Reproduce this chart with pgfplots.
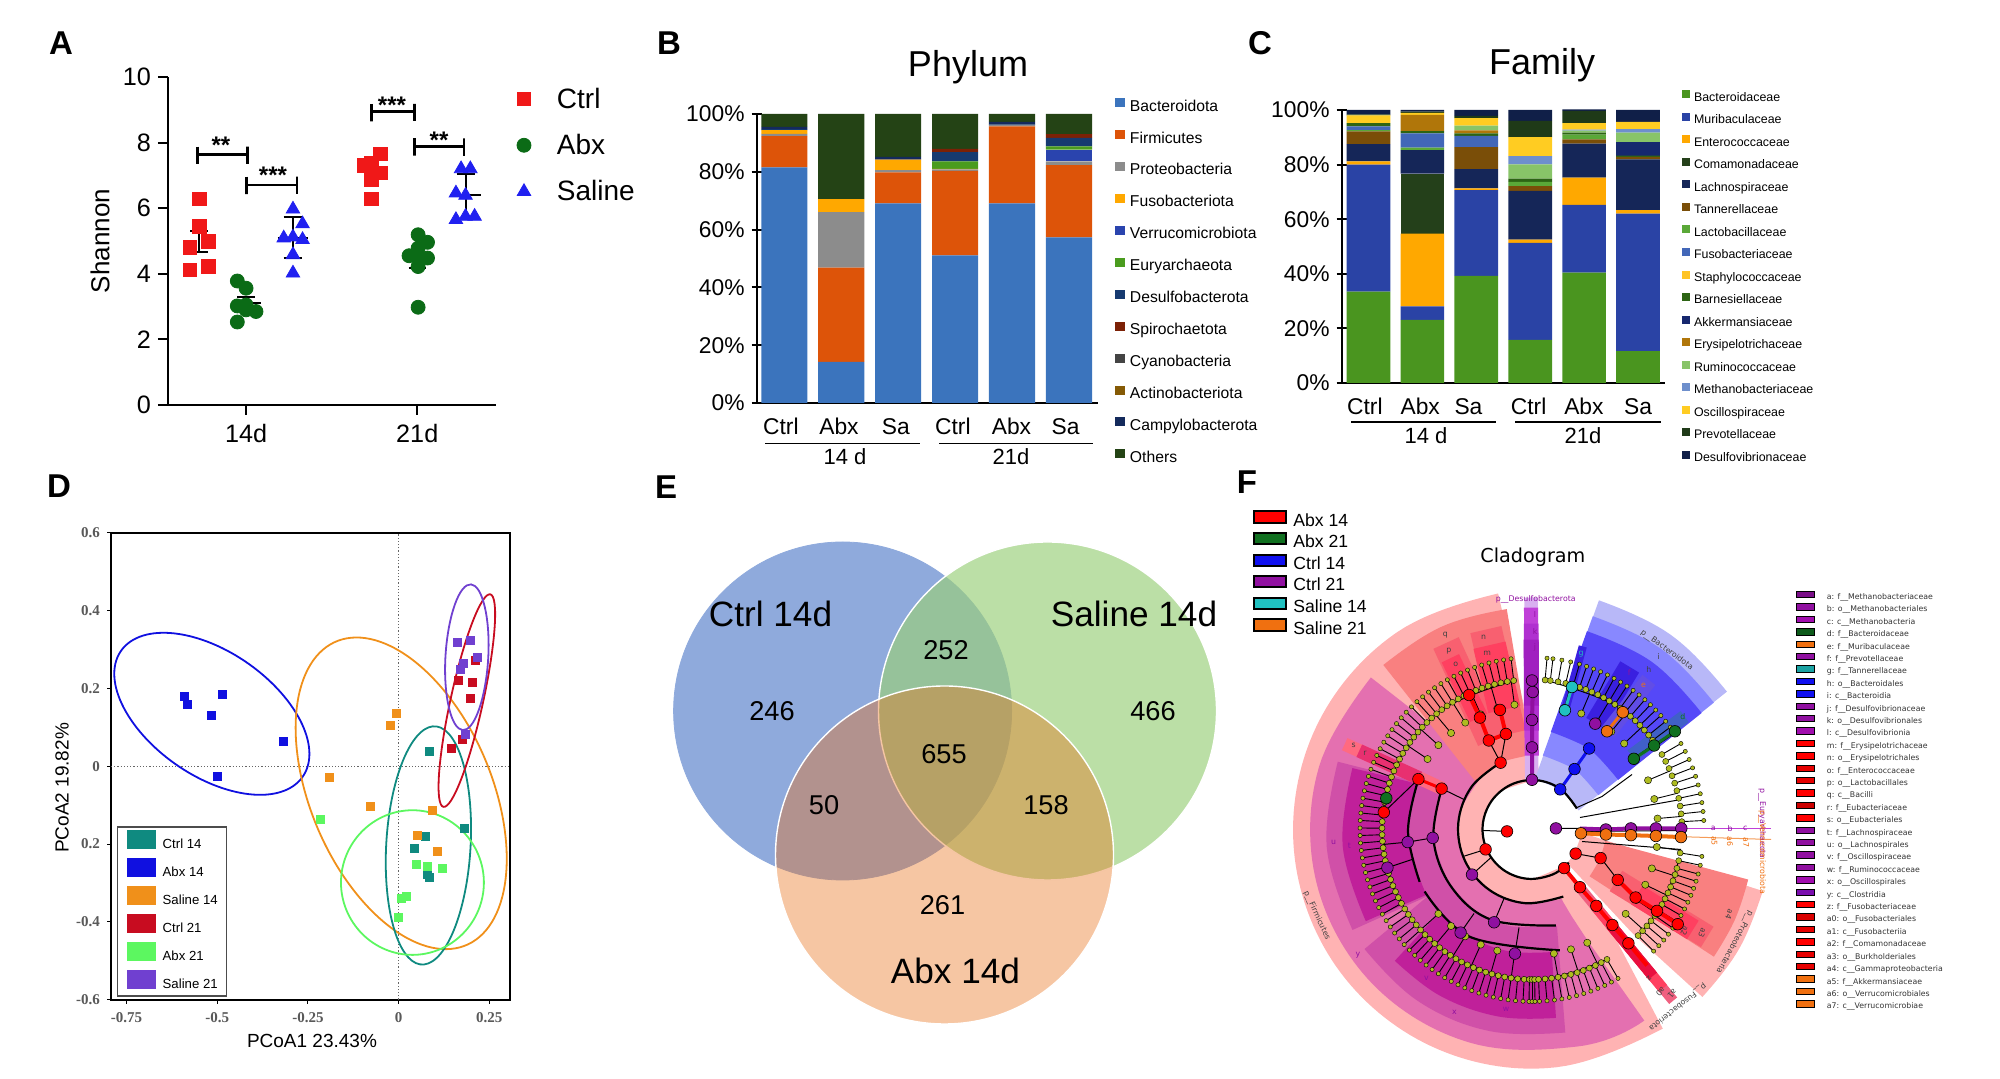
\documentclass[border=0pt]{standalone}
\usepackage{fontspec}
\setmainfont{Liberation Sans}
\newfontfamily\serifnum{Liberation Serif}
\newfontfamily\dejavu{DejaVu Sans}
\usepackage{pgfplots}
\usepackage{pgfplotstable}
\pgfplotsset{compat=1.18}
\newcommand\fs[1]{\fontsize{#1}{#1}\selectfont}

% panel A
\definecolor{aRed}{HTML}{F01818}
\definecolor{aGreen}{HTML}{0B6B16}
\definecolor{aBlue}{HTML}{2020F0}
% panel B
\definecolor{pBac}{HTML}{3B74BD}
\definecolor{pFir}{HTML}{DD5409}
\definecolor{pPro}{HTML}{8C8C8C}
\definecolor{pFus}{HTML}{FFA800}
\definecolor{pVer}{HTML}{2A44AE}
\definecolor{pEur}{HTML}{4A9C1E}
\definecolor{pDes}{HTML}{163A70}
\definecolor{pSpi}{HTML}{7C2106}
\definecolor{pCya}{HTML}{444444}
\definecolor{pAct}{HTML}{855A05}
\definecolor{pCam}{HTML}{142A5C}
\definecolor{pOth}{HTML}{244315}
% panel C
\definecolor{fBac}{HTML}{4A951F}
\definecolor{fMur}{HTML}{2A43A5}
\definecolor{fEnt}{HTML}{FFA800}
\definecolor{fCom}{HTML}{24401A}
\definecolor{fLac}{HTML}{152658}
\definecolor{fTan}{HTML}{7A4E08}
\definecolor{fLab}{HTML}{5AA838}
\definecolor{fFus}{HTML}{4267B8}
\definecolor{fSta}{HTML}{FFC425}
\definecolor{fBar}{HTML}{2D6414}
\definecolor{fAkk}{HTML}{16286E}
\definecolor{fEry}{HTML}{B0760A}
\definecolor{fRum}{HTML}{88C468}
\definecolor{fMet}{HTML}{6E8FCC}
\definecolor{fOsc}{HTML}{FFCC22}
\definecolor{fPre}{HTML}{1F3A18}
\definecolor{fDes}{HTML}{101F48}
% panel D
\definecolor{dTeal}{HTML}{0F8A80}
\definecolor{dBlue}{HTML}{1010E0}
\definecolor{dOrange}{HTML}{F0901A}
\definecolor{dRed}{HTML}{C80C20}
\definecolor{dGreen}{HTML}{5CF760}
\definecolor{dPurple}{HTML}{7040D0}
% panel E
\definecolor{vBlue}{HTML}{8FAADC}
\definecolor{vGreen}{HTML}{9ACF7A}
\definecolor{vOrange}{HTML}{E87019}
% panel F
\definecolor{cRed}{HTML}{FF0000}
\definecolor{cPur}{HTML}{9010A0}
\definecolor{cBlu}{HTML}{1010F0}
\definecolor{cOra}{HTML}{F07010}
\definecolor{cTea}{HTML}{20C0C0}
\definecolor{cGre}{HTML}{107020}
\definecolor{cOli}{HTML}{AEBC20}
\definecolor{pale}{HTML}{FFB3B3}
\definecolor{wClo}{HTML}{E470B0}
\definecolor{wBac}{HTML}{F98080}
\definecolor{wOrd}{HTML}{D050A8}
\definecolor{wFam}{HTML}{C0209A}
\definecolor{wRa}{HTML}{FF6A80}
\definecolor{wRb}{HTML}{E83070}
\definecolor{wRc}{HTML}{F86070}
\definecolor{wRd}{HTML}{FF4060}
\definecolor{wPa}{HTML}{D8B0F0}
\definecolor{wPb}{HTML}{C040D8}
\definecolor{wPc}{HTML}{B030D0}
\definecolor{wPd}{HTML}{A020C0}
\definecolor{wBa}{HTML}{B8B8F8}
\definecolor{wBb}{HTML}{8888FF}
\definecolor{wBc}{HTML}{5548F8}
\definecolor{wBd}{HTML}{3A20E0}
\definecolor{wBe}{HTML}{4060C8}
\definecolor{wFa}{HTML}{F06080}
\definecolor{wFb}{HTML}{E81040}

\pgfplotstableread{
x  Bac  Fir  Pro  Fus Ver Eur Des Spi Cya Act Cam Oth
0  81.5 10.8 0.8  1.3 0   0   0.4 0   0   0   0.7 4.5
1  14.2 32.6 19.2 4.5 0   0   0   0   0   0   0   29.5
2  69.1 10.7 0.8  3.6 0   0   0   0   0   0   1.0 14.8
3  51.1 29.2 0.5  0.2 0   2.6 3.2 1.1 0   0   0   12.1
4  69.1 26.6 0.5  0   0   0   0.2 0   0   0   0.9 2.7
5  57.3 25.0 1.3  0   4.1 1.1 2.9 1.3 0   0   0   7.0
}\phylum

\pgfplotstableread{
x  Bac  Mur  Ent  Com Lac  Tan Lab Fus Sta Bar Akk Ery Rum Met Osc Pre Des
0  33.5 46.5 1.2  0   6.3  4.7 0.4 1.4 0   1.2 0   0   0   0   2.8 0.4 1.6
1  23.1 5.0  26.6 22  8.6  0   0.9 5.2 0   0.9 0   5.9 0   0   0.7 0.5 0.6
2  39.2 31.4 0.7  0   7.0  8.1 0   4.1 0   0.9 0   1.1 1.8 0   2.7 0.8 2.2
3  15.8 35.5 1.2  0   17.9 1.7 1.6 0   0   1.2 0   0   5.2 3.0 7.0 5.9 4.0
4  40.4 24.8 10.0 0   12.5 1.5 1.8 0   0   0.7 0   0   0.7 0.4 2.4 4.5 0.5
5  11.7 50.3 1.3  0   18.6 0.9 0   0   0   0.5 4.8 0   3.6 1.3 2.6 0   4.4
}\family

\pgfplotsset{
  stackbars/.style={
    scale only axis, ybar stacked, bar width=0.81,
    ymin=0, ymax=100, ytick={0,20,...,100},
    yticklabel={\pgfmathprintnumber{\tick}\%},
    /pgf/number format/assume math mode=true,
    axis x line=bottom, axis y line=left, axis line style={-,line width=1.2pt},
    y tick style={black,line width=1pt}, x tick style={draw=none},
    major tick length=5.4pt,
    tick label style={font=\fs{11.4}},
    xticklabel style={yshift=-1.5pt},
    legend image code/.code={\fill[##1] (0pt,-0.3pt) rectangle (5pt,4.2pt);},
    legend cell align=left,
  },
  band/.style={forget plot,data cs=polar,smooth,tension=0.62,line cap=butt},
  ringarc/.style={forget plot,data cs=polar,smooth,tension=0.62,black},
}
% framed swatch for the two keys of panel F; size set by \swlw \swlo \swwd \swhi
\newcommand\tax[2]{\addlegendimage{legend image code/.code={\filldraw[fill=#1,draw=black,line width=\swlw] (0pt,\swlo) rectangle (\swwd,\swhi);}}\addlegendentry{#2}}
% zoomed-crop coordinates of panel F to picture units
\def\fz(#1,#2){(1240+#1/2.8,599-#2/2.618)}

\begin{document}
\begin{tikzpicture}[x=0.5pt,y=0.5pt]
\path[use as bounding box] (0,0) rectangle (2000,1079);

% ---------- A
\begin{axis}[
  at={(84pt,337pt)}, scale only axis, width=164pt, height=164pt,
  xmin=0.544, xmax=2.46, ymin=0, ymax=10,
  axis lines=left, axis line style={-,line width=1.2pt},
  xtick={1,2}, xticklabels={14d,21d}, ytick={0,2,...,10},
  tick style={black,line width=1pt}, tick align=outside, major tick length=5pt,
  tick label style={font=\fs{12.6}},
  xticklabel style={yshift=-1pt},
  /pgf/number format/assume math mode=true,
  clip=false,
  legend style={at={(1.0445,0.982)},anchor=north west,draw=none,fill=none,
    font=\fs{14},row sep=9.15pt,column sep=13pt,nodes={inner sep=0pt,text height=10.5pt,text depth=3.5pt}},
  legend cell align=left,
  legend image code/.code={\draw[#1] plot coordinates {(6pt,1.15pt)};},
]
\addplot[only marks,mark=square*,mark size=3.4pt,color=aRed] coordinates {
  (0.726,6.28)(0.726,5.44)(0.779,4.98)(0.673,4.81)(0.779,4.22)(0.673,4.12)
  (1.784,7.66)(1.688,7.30)(1.731,7.38)(1.731,7.17)(1.784,7.07)(1.731,6.87)(1.731,6.28)};
\addlegendentry{Ctrl}
\addplot[only marks,mark=*,mark size=3.5pt,color=aGreen] coordinates {
  (0.949,3.78)(1.0,3.56)(0.949,3.02)(1.0,2.90)(1.058,2.85)(0.949,2.53)(1.0,3.05)
  (2.005,5.19)(2.06,4.96)(2.005,4.78)(1.952,4.55)(2.005,4.52)(2.06,4.48)(2.005,4.22)(2.005,2.98)};
\addlegendentry{Abx}
\addplot[only marks,mark=triangle*,mark size=3.9pt,color=aBlue] coordinates {
  (1.274,5.97)(1.33,5.52)(1.22,5.09)(1.274,5.12)(1.33,5.04)(1.274,4.58)(1.274,4.02)
  (2.256,7.2)(2.31,7.2)(2.226,6.46)(2.282,6.39)(2.226,5.65)(2.282,5.75)(2.335,5.75)};
\addlegendentry{Saline}
% mean and error bars
\addplot[forget plot,black,line width=1pt,unbounded coords=jump] coordinates {
  (0.726,4.65)(0.726,5.30)(nan,nan)(0.675,5.30)(0.777,5.30)(nan,nan)(0.675,4.65)(0.777,4.65)(nan,nan)
  (1.0,2.85)(1.0,3.30)(nan,nan)(0.948,3.30)(1.052,3.30)(nan,nan)(0.97,3.10)(1.09,3.10)(nan,nan)
  (1.274,4.47)(1.274,5.72)(nan,nan)(1.22,5.72)(1.326,5.72)(nan,nan)(1.185,5.10)(1.363,5.10)(nan,nan)(1.22,4.47)(1.326,4.47)(nan,nan)
  (1.731,6.85)(1.731,7.35)(nan,nan)(1.68,7.10)(1.78,7.10)(nan,nan)
  (2.0,4.17)(2.0,4.88)(nan,nan)(1.95,4.17)(2.05,4.17)(nan,nan)
  (2.282,5.75)(2.282,7.03)(nan,nan)(2.23,7.03)(2.335,7.03)(nan,nan)(2.19,6.39)(2.37,6.39)};
% significance brackets
\addplot[forget plot,black,line width=1.3pt] coordinates {(0.718,7.88)(0.718,7.35)(0.718,7.63)(1.008,7.63)(1.008,7.88)(1.008,7.35)};
\addplot[forget plot,black,line width=1.3pt] coordinates {(1.003,6.96)(1.003,6.43)(1.003,6.71)(1.297,6.71)(1.297,6.96)(1.297,6.43)};
\addplot[forget plot,black,line width=1.3pt] coordinates {(1.731,9.18)(1.731,8.65)(1.731,8.95)(1.985,8.95)(1.985,9.18)(1.985,8.65)};
\addplot[forget plot,black,line width=1.3pt] coordinates {(1.985,8.13)(1.985,7.60)(1.985,7.88)(2.272,7.88)(2.272,8.13)(2.272,7.60)};
\end{axis}
\node[font=\bfseries\fs{16.5}] at (61,1079-43) {A};
\node[font=\fs{13},rotate=90] at (100,1079-241) {Shannon};
\node[font=\bfseries\fs{12}] at (221,1079-145) {**};
\node[font=\bfseries\fs{12}] at (273,1079-175) {***};
\node[font=\bfseries\fs{12}] at (392,1079-105) {***};
\node[font=\bfseries\fs{12}] at (439,1079-140) {**};

% ---------- B
\begin{axis}[stackbars,
  at={(378.5pt,338pt)}, width=170.5pt, height=144.5pt,
  xmin=-0.48, xmax=5.51,
  xtick={-0.06,0.96,1.96,2.96,3.99,4.94}, xticklabels={Ctrl,Abx,Sa,Ctrl,Abx,Sa},
  legend style={at={(1.031,1.069)},anchor=north west,draw=none,fill=none,
    font=\fs{7.85},row sep=7.9pt,column sep=2.5pt,nodes={inner sep=0pt,text height=6pt,text depth=1.7pt}},
]
\addplot[fill=pBac,draw=none] table[x=x,y=Bac] {\phylum}; \addlegendentry{Bacteroidota}
\addplot[fill=pFir,draw=none] table[x=x,y=Fir] {\phylum}; \addlegendentry{Firmicutes}
\addplot[fill=pPro,draw=none] table[x=x,y=Pro] {\phylum}; \addlegendentry{Proteobacteria}
\addplot[fill=pFus,draw=none] table[x=x,y=Fus] {\phylum}; \addlegendentry{Fusobacteriota}
\addplot[fill=pVer,draw=none] table[x=x,y=Ver] {\phylum}; \addlegendentry{Verrucomicrobiota}
\addplot[fill=pEur,draw=none] table[x=x,y=Eur] {\phylum}; \addlegendentry{Euryarchaeota}
\addplot[fill=pDes,draw=none] table[x=x,y=Des] {\phylum}; \addlegendentry{Desulfobacterota}
\addplot[fill=pSpi,draw=none] table[x=x,y=Spi] {\phylum}; \addlegendentry{Spirochaetota}
\addplot[fill=pCya,draw=none] table[x=x,y=Cya] {\phylum}; \addlegendentry{Cyanobacteria}
\addplot[fill=pAct,draw=none] table[x=x,y=Act] {\phylum}; \addlegendentry{Actinobacteriota}
\addplot[fill=pCam,draw=none] table[x=x,y=Cam] {\phylum}; \addlegendentry{Campylobacterota}
\addplot[fill=pOth,draw=none] table[x=x,y=Oth] {\phylum}; \addlegendentry{Others}
\end{axis}
\node[font=\bfseries\fs{16.5}] at (669,1079-43) {B};
\node[font=\fs{18}] at (968,1079-67) {Phylum};
\draw[line width=0.7pt] (765,1079-443.5) -- (919.5,1079-443.5) (939,1079-443.5) -- (1093,1079-443.5);
\node[font=\fs{11}] at (845,1079-457) {14 d};
\node[font=\fs{11}] at (1011,1079-457) {21d};

% ---------- C
\begin{axis}[stackbars,
  at={(671pt,348pt)}, width=161.5pt, height=136.5pt,
  xmin=-0.49, xmax=5.5,
  xtick={-0.066,0.96,1.855,2.97,3.996,5.0}, xticklabels={Ctrl,Abx,Sa,Ctrl,Abx,Sa},
  legend image code/.code={\fill[#1] (0pt,-0.2pt) rectangle (4pt,3.8pt);},
  legend style={at={(1.033,1.088)},anchor=north west,draw=none,fill=none,
    font=\fs{6.2},row sep=4.46pt,column sep=2pt,nodes={inner sep=0pt,text height=4.6pt,text depth=1.4pt}},
]
\addplot[fill=fBac,draw=none] table[x=x,y=Bac] {\family}; \addlegendentry{Bacteroidaceae}
\addplot[fill=fMur,draw=none] table[x=x,y=Mur] {\family}; \addlegendentry{Muribaculaceae}
\addplot[fill=fEnt,draw=none] table[x=x,y=Ent] {\family}; \addlegendentry{Enterococcaceae}
\addplot[fill=fCom,draw=none] table[x=x,y=Com] {\family}; \addlegendentry{Comamonadaceae}
\addplot[fill=fLac,draw=none] table[x=x,y=Lac] {\family}; \addlegendentry{Lachnospiraceae}
\addplot[fill=fTan,draw=none] table[x=x,y=Tan] {\family}; \addlegendentry{Tannerellaceae}
\addplot[fill=fLab,draw=none] table[x=x,y=Lab] {\family}; \addlegendentry{Lactobacillaceae}
\addplot[fill=fFus,draw=none] table[x=x,y=Fus] {\family}; \addlegendentry{Fusobacteriaceae}
\addplot[fill=fSta,draw=none] table[x=x,y=Sta] {\family}; \addlegendentry{Staphylococcaceae}
\addplot[fill=fBar,draw=none] table[x=x,y=Bar] {\family}; \addlegendentry{Barnesiellaceae}
\addplot[fill=fAkk,draw=none] table[x=x,y=Akk] {\family}; \addlegendentry{Akkermansiaceae}
\addplot[fill=fEry,draw=none] table[x=x,y=Ery] {\family}; \addlegendentry{Erysipelotrichaceae}
\addplot[fill=fRum,draw=none] table[x=x,y=Rum] {\family}; \addlegendentry{Ruminococcaceae}
\addplot[fill=fMet,draw=none] table[x=x,y=Met] {\family}; \addlegendentry{Methanobacteriaceae}
\addplot[fill=fOsc,draw=none] table[x=x,y=Osc] {\family}; \addlegendentry{Oscillospiraceae}
\addplot[fill=fPre,draw=none] table[x=x,y=Pre] {\family}; \addlegendentry{Prevotellaceae}
\addplot[fill=fDes,draw=none] table[x=x,y=Des] {\family}; \addlegendentry{Desulfovibrionaceae}
\end{axis}
\node[font=\bfseries\fs{16.5}] at (1260,1079-43) {C};
\node[font=\fs{18}] at (1542,1079-65) {Family};
\draw[line width=0.7pt] (1351,1079-422) -- (1496,1079-422) (1515,1079-422) -- (1661,1079-422);
\node[font=\fs{11}] at (1426,1079-436) {14 d};
\node[font=\fs{11}] at (1583,1079-436) {21d};

% ---------- D
\begin{axis}[
  at={(55.5pt,39.7pt)}, scale only axis, width=199.5pt, height=233.3pt,
  xmin=-0.793, xmax=0.307, ymin=-0.6, ymax=0.6,
  axis line style={line width=1pt},
  xtick={-0.75,-0.5,-0.25,0,0.25}, xticklabels={-0.75,-0.5,-0.25,0,0.25},
  ytick={-0.6,-0.4,-0.2,0,0.2,0.4,0.6}, yticklabels={-0.6,-0.4,0.2,0,0.2,0.4,0.6},
  xtick pos=bottom, ytick pos=left,
  tick style={black,line width=0.5pt}, tick align=outside, major tick length=2pt,
  tick label style={font=\serifnum\bfseries\fs{7.5},text=black!65},
  xticklabel style={yshift=-1pt},
  legend style={at={(0.015,0.006)},anchor=south west,draw=black!70,line width=0.7pt,fill=white,
    font=\fs{6.6},row sep=2.45pt,column sep=3.3pt,inner xsep=4.5pt,inner ysep=1.5pt,
    nodes={inner sep=0pt,text height=6.5pt,text depth=2.3pt}},
  legend cell align=left,
  legend image code/.code={\fill[#1] (0pt,-2pt) rectangle (14pt,6.8pt);},
]
\addplot[forget plot,black!60,densely dotted,line width=0.6pt] coordinates {(-0.793,0)(0.307,0)};
\addplot[forget plot,black!60,densely dotted,line width=0.6pt] coordinates {(0,-0.6)(0,0.6)};
\addplot[only marks,mark=square*,mark size=2pt,color=dTeal,fill=dTeal] coordinates {(.086,.038)(.181,-.161)(.073,-.181)(.043,-.21)(.08,-.277)(.084,-.287)};
\addlegendentry{Ctrl 14}
\addplot[only marks,mark=square*,mark size=2pt,color=dBlue,fill=dBlue] coordinates {(-.591,.179)(-.583,.158)(-.486,.185)(-.517,.13)(-.319,.065)(-.5,-.027)};
\addlegendentry{Abx 14}
\addplot[only marks,mark=square*,mark size=2pt,color=dOrange,fill=dOrange] coordinates {(-.005,.137)(-.024,.106)(-.191,-.029)(-.077,-.103)(.094,-.113)(.051,-.178)(.107,-.22)};
\addlegendentry{Saline 14}
\addplot[only marks,mark=square*,mark size=2pt,color=dRed,fill=dRed] coordinates {(.211,.273)(.164,.222)(.203,.215)(.198,.175)(.175,.07)(.145,.045)};
\addlegendentry{Ctrl 21}
\addplot[only marks,mark=square*,mark size=2pt,color=dGreen,fill=dGreen] coordinates {(-.215,-.136)(.048,-.252)(.08,-.258)(.12,-.262)(.02,-.335)(.008,-.34)(0,-.388)};
\addlegendentry{Abx 21}
\addplot[only marks,mark=square*,mark size=2pt,color=dPurple,fill=dPurple] coordinates {(.161,.318)(.199,.324)(.217,.28)(.178,.264)(.171,.248)(.185,.082)};
\addlegendentry{Saline 21}
% ellipses, eight points each
\addplot[forget plot,dBlue,line width=0.9pt,smooth cycle,tension=0.675] coordinates {(-.246,.032)(-.325,.190)(-.515,.316)(-.705,.336)(-.784,.238)(-.705,.080)(-.515,-.046)(-.325,-.066)};
\addplot[forget plot,dOrange,line width=0.9pt,smooth cycle,tension=0.675] coordinates {(.298,-.238)(.213,.069)(.007,.294)(-.199,.307)(-.284,.099)(-.199,-.208)(.007,-.433)(.213,-.446)};
\addplot[forget plot,dTeal,line width=0.9pt,smooth cycle,tension=0.675] coordinates {(.1996,-.1606)(.1652,.0414)(.082,.0999)(-.0012,-.0193)(-.0356,-.2464)(-.0012,-.4484)(.082,-.5069)(.1652,-.3877)};
\addplot[forget plot,dGreen,line width=0.9pt,smooth cycle,tension=0.675] coordinates {(.235,-.299)(.177,-.1675)(.038,-.113)(-.101,-.1675)(-.159,-.299)(-.101,-.4305)(.038,-.485)(.177,-.4305)};
\addplot[forget plot,dRed,line width=0.9pt,smooth cycle,tension=0.675] coordinates {(.266,.391)(.243,.439)(.188,.330)(.133,.126)(.110,-.053)(.133,-.101)(.188,.008)(.243,.212)};
\addplot[forget plot,dPurple,line width=0.9pt,smooth cycle,tension=0.675] coordinates {(.248,.312)(.230,.4337)(.188,.4652)(.146,.3885)(.128,.2486)(.146,.1273)(.188,.0958)(.230,.1725)};
\end{axis}
\node[font=\bfseries\fs{16.5}] at (59,1079-486) {D};
\node[font=\fs{9.5}] at (312,1079-1041) {PCoA1 23.43\%};
\node[font=\fs{9.5},rotate=90] at (62,1079-788) {PCoA2 19.82\%};

% ---------- E
\begin{axis}[
  at={(320pt,19.5pt)}, scale only axis, width=300pt, height=260pt,
  xmin=640, xmax=1240, ymin=39, ymax=559, hide axis, clip=false,
]
\addplot[only marks,mark=*,mark size=84.5pt,mark options={fill=vBlue,draw=vBlue}] coordinates {(842.6,368)};
\addplot[only marks,mark=*,mark size=84.5pt,mark options={fill=vGreen,fill opacity=0.67,draw=white,line width=0.7pt}] coordinates {(1047.5,368)};
\addplot[only marks,mark=*,mark size=84.5pt,mark options={fill=vOrange,fill opacity=0.4,draw=white,line width=0.7pt}] coordinates {(944.5,224)};
\end{axis}
\node[font=\bfseries\fs{16.5}] at (666,1079-487) {E};
\node[font=\fs{17.6}] at (770.5,1079-614) {Ctrl 14d};
\node[font=\fs{17.6}] at (1134,1079-614) {Saline 14d};
\node[font=\fs{17.6}] at (955.5,1079-971) {Abx 14d};
\node[font=\fs{13.6}] at (772,1079-711) {246};
\node[font=\fs{13.6}] at (946,1079-650) {252};
\node[font=\fs{13.6}] at (1153,1079-711) {466};
\node[font=\fs{13.6}] at (944,1079-754) {655};
\node[font=\fs{13.6}] at (824,1079-805) {50};
\node[font=\fs{13.6}] at (1046,1079-805) {158};
\node[font=\fs{13.6}] at (942.5,1079-905) {261};

% ---------- F
\def\swlw{1pt}\def\swlo{-0.4pt}\def\swwd{16pt}\def\swhi{5.2pt}
\begin{axis}[
  at={(641pt,-0.25pt)}, scale only axis, width=250pt, height=250pt,
  xmin=-250, xmax=250, ymin=-250, ymax=250, hide axis, clip=false,
  legend style={at={(-0.07,1.147)},anchor=north west,draw=none,fill=none,
    font=\fs{8.8},row sep=0.9pt,column sep=3pt,nodes={inner sep=0pt,text height=6.4pt,text depth=2pt}},
  legend cell align=left,
]
\tax{cRed}{Abx 14}
\tax{cGre}{Abx 21}
\tax{cBlu}{Ctrl 14}
\tax{cPur}{Ctrl 21}
\tax{cTea}{Saline 14}
\tax{cOra}{Saline 21}
% shaded clades: thick arcs, (angle,radius)
\addplot[band,draw=pale,line width=95pt] coordinates {(95,144)(125,144)(155,144)(185,144)(215,144)(245,144)(275,144)(307,144)};
\addplot[band,draw=wClo,line width=74pt] coordinates {(134,148)(164,148)(194,148)(224,148)(254,148)(284,148)(298,148)};
\addplot[band,draw=wBac,line width=74pt] coordinates {(95,148)(114,148)(134,148)};
\addplot[band,draw=wOrd,line width=53.5pt] coordinates {(159,152.5)(185,152.5)(211,152.5)};
\addplot[band,draw=wFam,line width=33pt] coordinates {(160,157)(185,157)(210,157)};
\addplot[band,draw=wOrd,line width=53.5pt] coordinates {(214,152.5)(236,152.5)(258,152.5)(281,152.5)};
\addplot[band,draw=wFam,line width=33pt] coordinates {(223,157)(241,157)(260,157)(278,157)};
\addplot[band,draw=wRa,line width=53.5pt] coordinates {(153,152.5)(158,152.5)};
\addplot[band,draw=wRb,line width=33pt] coordinates {(153,157)(158,157)};
\addplot[band,draw=wRc,line width=53.5pt] coordinates {(97,152.5)(109,152.5)};
\addplot[band,draw=wRc,line width=53.5pt] coordinates {(109.5,152.5)(120,152.5)};
\addplot[band,draw=wRd,line width=33pt] coordinates {(97,157)(109,157)};
\addplot[band,draw=wRd,line width=33pt] coordinates {(112,157)(119,157)};
% Desulfobacterota
\addplot[band,draw=wPa,line width=91.5pt] coordinates {(87.5,140.5)(93,140.5)};
\addplot[band,draw=wPb,line width=74pt] coordinates {(87.5,148)(93,148)};
\addplot[band,draw=wPc,line width=53.5pt] coordinates {(87.5,152.5)(93,152.5)};
\addplot[band,draw=wPd,line width=33pt] coordinates {(87.5,157)(93,157)};
% Bacteroidota
\addplot[band,draw=wBa,line width=95pt] coordinates {(33,144)(54.5,144)(76,144)};
\addplot[band,draw=wBb,line width=74pt] coordinates {(33,148)(54.5,148)(76,148)};
\addplot[band,draw=wBc,line width=53.5pt] coordinates {(33,152.5)(54.5,152.5)(76,152.5)};
\addplot[band,draw=wBd,line width=33pt] coordinates {(55,157)(63,157)};
\addplot[band,draw=wBd!80!white,line width=33pt] coordinates {(49,157)(55,157)};
\addplot[band,draw=wBd,line width=33pt] coordinates {(73,157)(76,157)};
\addplot[band,draw=wBe,line width=33pt] coordinates {(34,157)(39,157)};
% Proteobacteria and Fusobacteriota
\addplot[band,draw=pale,line width=95pt] coordinates {(-46,144)(-30,144)(-13,144)};
\addplot[band,draw=wBac,line width=74pt] coordinates {(-36,148)(-24,148)(-12,148)};
\addplot[band,draw=wRc,line width=53.5pt] coordinates {(-36,152.5)(-27,152.5)};
\addplot[band,draw=wRd,line width=33pt] coordinates {(-36,157)(-28,157)};
\addplot[band,draw=white,line width=95pt] coordinates {(-48,144)(-46,144)};
\addplot[band,draw=wFa,line width=74pt] coordinates {(-52.5,148)(-48.5,148)};
\addplot[band,draw=wRd,line width=53.5pt] coordinates {(-52.5,152.5)(-48.5,152.5)};
\addplot[band,draw=wFb,line width=33pt] coordinates {(-52.5,157)(-48.5,157)};
% Euryarchaeota and Verrucomicrobiota rays
\addplot[forget plot,wPb,line width=0.5pt] coordinates {(48,1)(239,1)};
\addplot[forget plot,cOra!70!white,line width=0.5pt] coordinates {(48,-4)(239,-10)};
% outer twigs, genus to species
\pgfplotsinvokeforeach{97,99.5,102,104.5,107,109.5,112,114.5,117,119.5,122,124.5,127,129.5,132,134.5,137,139.5,142,144.5,147,149.5,152,154.5,157,159.5,162,164.5,167,169.5,172,174.5,177,179.5,182,184.5,187,189.5,192,194.5,197,199.5,202,204.5,207,209.5,212,214.5,217,219.5,222,224.5,227,229.5,232,234.5,237,239.5,242,244.5,247,249.5,252,254.5,257,259.5,262,264.5,267,269,270,271,272.5,275,277.5,280,282.5,285,287.5,290,292.5,295,297.5,300,34,36.5,39,41.5,44,46.5,49,51.5,54,56.5,59,61.5,64,66.5,69,71.5,74,77,80,83,85,-45,-42.5,-40,-37.5,-35,-32.5,-30,-27.5,-25,-22.5,-20,-17.5,-15,-12,-9,30,27,24,21,18,15,12,9,6,3}{
  \addplot[forget plot,data cs=polar,black,line width=0.45pt] coordinates {(#1,148)(#1,172)};
  \addplot[forget plot,data cs=polar,only marks,mark=*,mark size=1.05pt,mark options={fill=cOli,draw=black,line width=0.2pt}] coordinates {(#1,172)};
  \addplot[forget plot,data cs=polar,only marks,mark=*,mark size=1.5pt,mark options={fill=cOli,draw=black,line width=0.2pt}] coordinates {(#1,150)};
}
\pgfplotsinvokeforeach{98,106,114,122,130,138,146,222,230,238,246,254,262,280,288,296,35,43,51,59,67,75,-42,-34,-26,-18,-8,5,14,23}{
  \addplot[forget plot,data cs=polar,black,line width=0.45pt] coordinates {(#1,124)(#1,150)};
  \addplot[forget plot,data cs=polar,only marks,mark=*,mark size=1.8pt,mark options={fill=cOli,draw=black,line width=0.2pt}] coordinates {(#1,126)};
}
% main arcs of the tree
\addplot[ringarc,line width=1.1pt] coordinates {(25,49.5)(55,49.5)(85,49.5)(115,49.5)(145,49.5)(175,49.5)(205,49.5)(235,49.5)(265,49.5)(295,49.5)(318,49.5)};
\addplot[ringarc,line width=1.1pt] coordinates {(115,74)(145,74)(175,74)(205,74)(235,74)(265,74)(295,74)};
\addplot[ringarc,line width=1.1pt] coordinates {(156,99)(186,99)(216,99)(246,99)(284,99)};
\addplot[ringarc,line width=1.1pt] coordinates {(157,124)(181,124)(205,124)};
\addplot[ringarc,line width=1.1pt] coordinates {(210,124)(240,124)(283,124)};
\addplot[ringarc,line width=0.5pt] coordinates {(96,150)(130,150)(165,150)(200,150)(235,150)(270,150)(300,150)};
\addplot[ringarc,line width=0.5pt] coordinates {(-46,150)(-30,150)(-12,150)};
\addplot[ringarc,line width=0.5pt] coordinates {(33,150)(55,150)(85,150)};
% side branches, plain lines
\addplot[forget plot,black,line width=0.5pt,unbounded coords=jump] coordinates {
  (-25,-1.9)(-49,-1)(nan,nan)(-46.4,-19.9)(-69,-27)(nan,nan)(-60,-45.1)(-41,-28)(nan,nan)
  (-90.4,40.9)(-68,30)(nan,nan)(-99.3,-8.4)(-124.3,-12.6)(-149,-15)(nan,nan)(-144.6,-38.2)(-120,-30)(nan,nan)
  (-37.9,-92.8)(-28,-69)(nan,nan)(-71.4,-103.1)(-58,-84)(nan,nan)(-17.1,-124.1)(-13,-98)(nan,nan)
  (23.9,1.1)(48,1)(nan,nan)(43.6,-24.1)(68.6,-28.6)(nan,nan)(-113.6,50.4)(-90.4,40.9)(nan,nan)
  (-148.2,17.2)(-113.6,50.4)(nan,nan)(-31.4,66.8)(-43.2,89)(nan,nan)(-31.4,66.8)(-26.1,95.5)(nan,nan)
  (45,22)(70,33)(100,55)(nan,nan)(50,-2)(149,-1)(nan,nan)(50,-12)(149,-20)(nan,nan)(48,12)(149,30)(nan,nan)
  (70,-30)(85.7,-50.4)(nan,nan)(-148.2,17.2)(-145.7,31.3)};
% coloured branches
\addplot[forget plot,cBlu,line width=1.5pt] coordinates {(28.2,40.1)(42.5,60.4)(57.1,81)};
\addplot[forget plot,cPur,line width=2pt] coordinates {(0,49.7)(0,82.1)(0,109.6)(0.7,137.5)(0,149)};
\addplot[forget plot,cPur,line width=2pt] coordinates {(48,1)(73.9,0)(98.9,1.1)(123.9,1.1)(149.3,1.1)};
\addplot[forget plot,cOra,line width=2pt] coordinates {(48.9,-3.8)(73.9,-5)(98.9,-5.7)(123.9,-6.5)(149,-7.6)};
\addplot[forget plot,cRed,line width=2pt] coordinates {(32.1,-38.6)(47.9,-57.7)(64.3,-76.4)(80.4,-95.5)(96.4,-113.8)(115,-136)};
\addplot[forget plot,cRed,line width=2pt] coordinates {(85.7,-50.4)(103.6,-68)(125,-81.4)(145.7,-94.7)};
\addplot[forget plot,cRed,line width=2pt] coordinates {(-43.2,89)(-52.1,111.9)(-62.9,134.5)};
\addplot[forget plot,cRed,line width=2pt] coordinates {(-43.2,89)(-26.1,95.5)(-32.1,119.6)};
\addplot[forget plot,cRed,line width=1.5pt] coordinates {(-113.6,50.4)(-90.4,40.9)};
\addplot[forget plot,cGre,line width=1.5pt] coordinates {(101.8,70.7)(122.1,84)(142.9,98.2)};
\addplot[forget plot,cOra,line width=1.5pt] coordinates {(75,98.2)(90.7,117.3)};
\addplot[forget plot,cTea,line width=1.5pt] coordinates {(32.9,119.2)(40,142.5)};
% biomarker nodes
\addplot[forget plot,only marks,mark=*,mark size=2.9pt,mark options={fill=cRed,draw=black,line width=0.3pt}] coordinates {
  (-25,-1.9)(-46.4,-19.9)(32.1,-38.6)(43.6,-24.1)(68.6,-28.6)(85.7,-50.4)(103.6,-68)(125,-81.4)(145.7,-94.7)
  (47.9,-57.7)(64.3,-76.4)(80.4,-95.5)(96.4,-113.8)(-90.4,40.9)(-113.6,50.4)(-148.2,17.2)(-31.4,66.8)
  (-43.2,89)(-26.1,95.5)(-52.1,111.9)(-32.1,119.6)(-62.9,134.5)};
\addplot[forget plot,only marks,mark=*,mark size=2.9pt,mark options={fill=cPur,draw=black,line width=0.3pt}] coordinates {
  (23.9,1.1)(0,49.7)(0,82.1)(0,109.6)(0.7,137.5)(0,149)(-60,-45.1)(-99.3,-8.4)(-124.3,-12.6)(-144.6,-38.2)
  (-37.9,-92.8)(-71.4,-103.1)(-17.1,-124.1)(63.2,105.8)(73.9,0)(98.9,1.1)(123.9,1.1)(149.3,1.1)};
\addplot[forget plot,only marks,mark=*,mark size=2.9pt,mark options={fill=cOra,draw=black,line width=0.3pt}] coordinates {
  (48.9,-3.8)(73.9,-5)(98.9,-5.7)(123.9,-6.5)(149,-7.6)(75,98.2)(90.7,117.3)};
\addplot[forget plot,only marks,mark=*,mark size=2.9pt,mark options={fill=cBlu,draw=black,line width=0.3pt}] coordinates {(28.2,40.1)(42.5,60.4)(57.1,81)};
\addplot[forget plot,only marks,mark=*,mark size=2.9pt,mark options={fill=cTea,draw=black,line width=0.3pt}] coordinates {(40,142.5)(32.9,119.2)};
\addplot[forget plot,only marks,mark=*,mark size=2.9pt,mark options={fill=cGre,draw=black,line width=0.3pt}] coordinates {(101.8,70.7)(122.1,84)(142.9,98.2)(-145.7,31.3)};
\end{axis}
\node[font=\bfseries\fs{16.5}] at (1247,1079-482) {F};
\node[font=\dejavu\fs{9.6}] at \fz(820,202) {Cladogram};
\begin{scope}[font=\dejavu\fs{3.9},text=black!75,inner sep=0pt]
\node[rotate=-65] at \fz(215,1140) {p\_\_Firmicutes};
\node[rotate=-36] at \fz(1195,445) {p\_\_Bacteroidota};
\node[rotate=-118] at \fz(1385,1210) {p\_\_Proteobacteria};
\node[rotate=-142] at \fz(1225,1380) {p\_\_Fusobacteriota};
\node[text=cPur] at \fz(828,312) {p\_\_Desulfobacterota};
\node[rotate=-90,text=cPur] at \fz(1462,900) {p\_\_Euryarchaeota};
\node[rotate=-90,text=cOra] at \fz(1462,975) {p\_\_Verrucomicrobiota};
\node at \fz(575,405) {q};
\node at \fz(585,447) {p};
\node at \fz(604,484) {o};
\node at \fz(682,413) {n};
\node at \fz(692,455) {m};
\node at \fz(318,695) {s};
\node at \fz(350,716) {r};
\node[text=cPur] at \fz(262,950) {u};
\node[text=cPur] at \fz(306,957) {t};
\node[text=cPur] at \fz(330,1243) {y};
\node[text=cPur] at \fz(600,1395) {x};
\node[text=cPur] at \fz(522,1305) {v};
\node[text=cPur] at \fz(745,1387) {w};
\node[text=cPur] at \fz(826,352) {l};
\node[text=cPur] at \fz(826,397) {k};
\node[text=cPur] at \fz(826,437) {j};
\node at \fz(1172,462) {i};
\node at \fz(1145,495) {h};
\node[text=cTea] at \fz(955,455) {g};
\node[text=cPur] at \fz(1090,505) {f};
\node[text=cOra] at \fz(1130,537) {e};
\node[text=cGre] at \fz(1240,620) {d};
\node[rotate=-112] at \fz(1370,1137) {a4};
\node[rotate=-112] at \fz(1295,1185) {a3};
\node[rotate=-112] at \fz(1245,1180) {a2};
\node[rotate=-130] at \fz(1145,1305) {z};
\node[rotate=-130] at \fz(1178,1340) {a0};
\node[rotate=-130] at \fz(1210,1345) {a1};
\node[text=cPur] at \fz(1372,912) {b};
\node[text=cPur] at \fz(1415,912) {c};
\node[text=cPur] at \fz(1325,912) {a};
\node[rotate=-90,text=cOra] at \fz(1328,945) {a5};
\node[rotate=-90,text=cOra] at \fz(1372,947) {a6};
\node[rotate=-90,text=cOra] at \fz(1417,950) {a7};
\end{scope}
% taxon key
\def\swlw{0.4pt}\def\swlo{-0.2pt}\def\swwd{9pt}\def\swhi{3pt}
\begin{axis}[
  at={(894.65pt,246.2pt)}, anchor=north west, scale only axis, width=10pt, height=10pt,
  xmin=0, xmax=1, ymin=0, ymax=1, hide axis,
  legend style={at={(0,1)},anchor=north west,draw=none,fill=none,
    font=\dejavu\fs{3.9},text=black!80,row sep=0.9pt,column sep=6.2pt,nodes={inner sep=0pt,text height=3.2pt,text depth=1pt}},
  legend cell align=left,
]
\tax{cPur!85!black}{a: f\_\_Methanobacteriaceae}
\tax{cPur}{b: o\_\_Methanobacteriales}
\tax{cPur!85!magenta}{c: c\_\_Methanobacteria}
\tax{cGre!80!black}{d: f\_\_Bacteroidaceae}
\tax{cOra}{e: f\_\_Muribaculaceae}
\tax{cPur}{f: f\_\_Prevotellaceae}
\tax{cTea!85!black}{g: f\_\_Tannerellaceae}
\tax{cBlu}{h: o\_\_Bacteroidales}
\tax{cBlu}{i: c\_\_Bacteroidia}
\tax{cPur}{j: f\_\_Desulfovibrionaceae}
\tax{cPur}{k: o\_\_Desulfovibrionales}
\tax{cPur!85!magenta}{l: c\_\_Desulfovibrionia}
\tax{cRed}{m: f\_\_Erysipelotrichaceae}
\tax{cRed}{n: o\_\_Erysipelotrichales}
\tax{cRed!90!black}{o: f\_\_Enterococcaceae}
\tax{cRed!90!black}{p: o\_\_Lactobacillales}
\tax{cRed}{q: c\_\_Bacilli}
\tax{cRed!80!black}{r: f\_\_Eubacteriaceae}
\tax{cRed}{s: o\_\_Eubacteriales}
\tax{cPur}{t: f\_\_Lachnospiraceae}
\tax{cPur}{u: o\_\_Lachnospirales}
\tax{cPur}{v: f\_\_Oscillospiraceae}
\tax{cPur}{w: f\_\_Ruminococcaceae}
\tax{cPur!85!magenta}{x: o\_\_Oscillospirales}
\tax{cPur!85!blue}{y: c\_\_Clostridia}
\tax{cRed}{z: f\_\_Fusobacteriaceae}
\tax{cRed!85!black}{a0: o\_\_Fusobacteriales}
\tax{cRed!90!black}{a1: c\_\_Fusobacteriia}
\tax{cRed}{a2: f\_\_Comamonadaceae}
\tax{cRed!90!black}{a3: o\_\_Burkholderiales}
\tax{cRed!90!black}{a4: c\_\_Gammaproteobacteria}
\tax{cOra}{a5: f\_\_Akkermansiaceae}
\tax{cOra}{a6: o\_\_Verrucomicrobiales}
\tax{cOra}{a7: c\_\_Verrucomicrobiae}
\end{axis}
\end{tikzpicture}
\end{document}
